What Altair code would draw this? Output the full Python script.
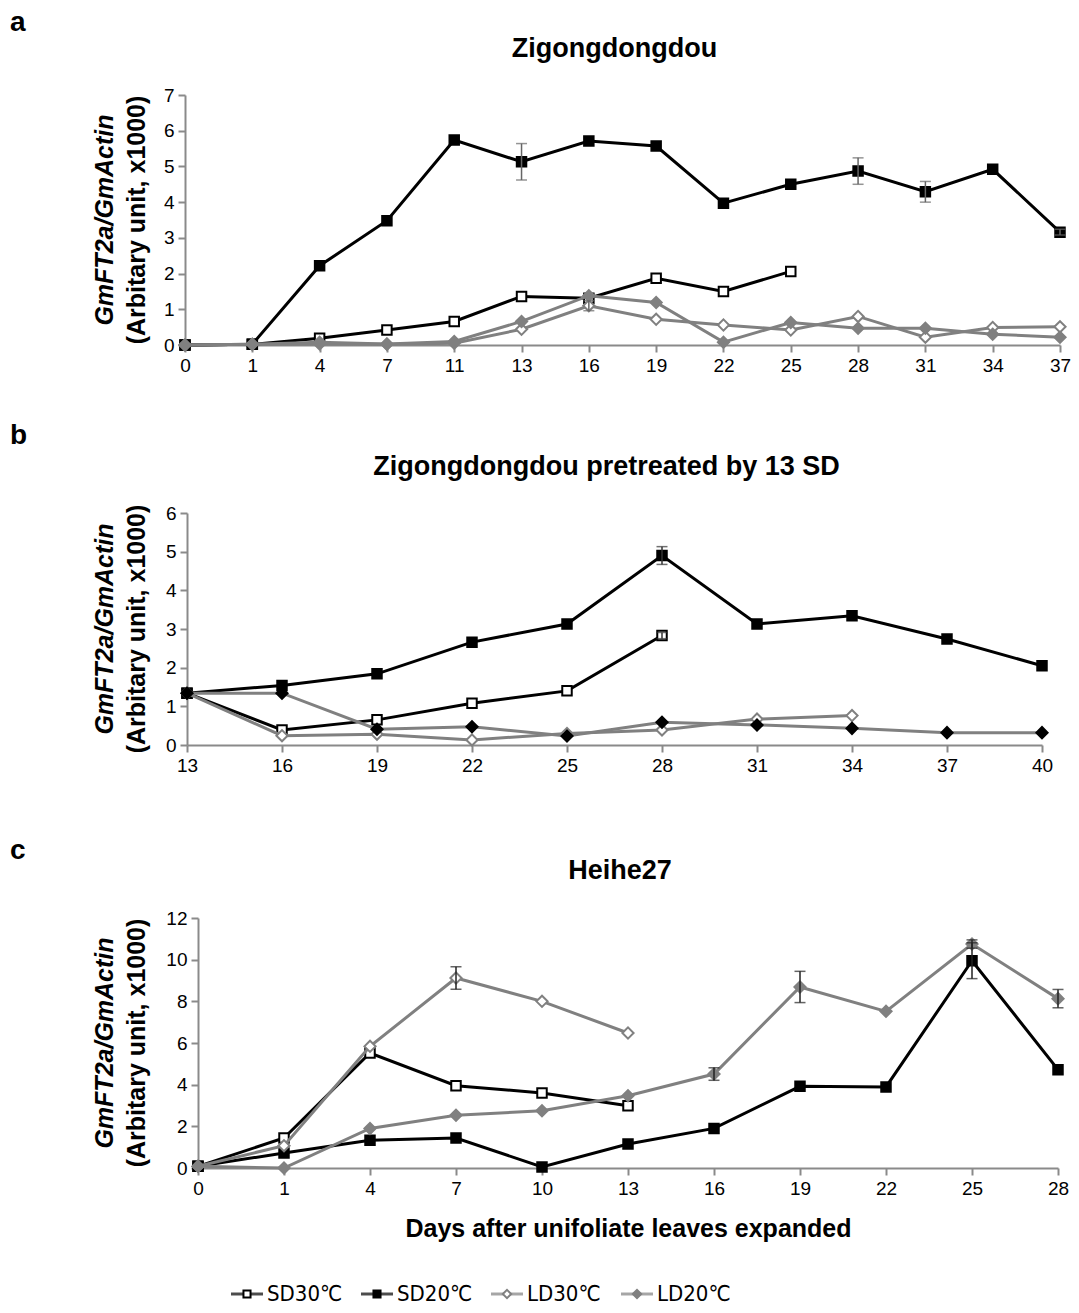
import altair as alt
import pandas as pd

FONT = "Liberation Sans"

# ---------------- data ----------------
A_DAYS = [0, 1, 4, 7, 11, 13, 16, 19, 22, 25, 28, 31, 34, 37]
A_SD30 = [0.0, 0.02, 0.19, 0.42, 0.66, 1.36, 1.31, 1.87, 1.50, 2.06]
A_SD20 = [0.0, 0.02, 2.22, 3.48, 5.74, 5.13, 5.71, 5.57, 3.97, 4.50, 4.87, 4.29, 4.92, 3.16]
A_LD30 = [0.0, 0.02, 0.03, 0.02, 0.05, 0.44, 1.10, 0.72, 0.56, 0.42, 0.80, 0.22, 0.49, 0.51]
A_LD20 = [0.0, 0.02, 0.08, 0.03, 0.10, 0.66, 1.38, 1.19, 0.08, 0.63, 0.47, 0.47, 0.30, 0.22]
A_ERR_SERIES = ["SD20", "SD20", "SD20", "LD30", "SD20"]
A_ERR_DAY = [13, 28, 31, 16, 37]
A_ERR_SD = [0.51, 0.37, 0.29, 0.14, 0.08]

B_DAYS = [13, 16, 19, 22, 25, 28, 31, 34, 37, 40]
B_SD30 = [1.34, 0.39, 0.65, 1.08, 1.40, 2.83]
B_SD20 = [1.34, 1.54, 1.84, 2.66, 3.13, 4.90, 3.13, 3.34, 2.74, 2.05]
B_LD30 = [1.34, 0.24, 0.28, 0.13, 0.30, 0.39, 0.67, 0.76]
B_LD20 = [1.34, 1.34, 0.41, 0.47, 0.23, 0.59, 0.52, 0.43, 0.32, 0.32]
B_ERR_SERIES = ["SD20", "SD30"]
B_ERR_DAY = [28, 28]
B_ERR_SD = [0.23, 0.08]

C_DAYS = [0, 1, 4, 7, 10, 13, 16, 19, 22, 25, 28]
C_SD30 = [0.08, 1.44, 5.52, 3.95, 3.60, 2.99]
C_SD20 = [0.08, 0.72, 1.33, 1.44, 0.05, 1.15, 1.90, 3.92, 3.89, 9.95, 4.72]
C_LD30 = [0.08, 1.07, 5.84, 9.12, 8.00, 6.48]
C_LD20 = [0.08, 0.00, 1.90, 2.53, 2.75, 3.47, 4.51, 8.69, 7.52, 10.75, 8.13]
C_ERR_SERIES = ["LD30", "SD20", "LD20", "LD20", "LD20", "LD20"]
C_ERR_DAY = [7, 25, 16, 19, 28, 25]
C_ERR_SD = [0.54, 0.86, 0.30, 0.75, 0.44, 0.20]

SERIES = ["SD30", "SD20", "LD30", "LD20"]
LEGEND_TEXT = ["SD30℃", "SD20℃", "LD30℃", "LD20℃"]

GRAY = "#808080"
AXIS_GRAY = "#8a8a8a"

STYLE = {
    "SD30": dict(line="#000000", shape="square", fill="#ffffff", stroke="#000000", size=90),
    "SD20": dict(line="#000000", shape="square", fill="#000000", stroke="#000000", size=90),
    "LD30": dict(line=GRAY, shape="diamond", fill="#ffffff", stroke=GRAY, size=125),
    "LD20": dict(line=GRAY, shape="diamond", fill=GRAY, stroke=GRAY, size=125),
}


def panel(days, values, err, ymax, W, r0, H, letter, title, top_ext, bot_ext,
          letter_y, title_y, ld20_fill=GRAY, err_color="#555555", xtitle=None):
    dom = [str(d) for d in days]
    xscale = alt.Scale(type="point", domain=dom, padding=0, range=[r0, W])
    yscale = alt.Scale(domain=[0, ymax], nice=False, zero=True)
    xaxis = alt.Axis(
        labelAngle=0, labelFontSize=19, labelFont=FONT, labelColor="#000000",
        domainColor=AXIS_GRAY, domainWidth=2, tickColor=AXIS_GRAY, tickWidth=2,
        tickSize=7, labelPadding=4, grid=False,
        title=xtitle, titleFont=FONT, titleFontSize=25, titleFontWeight="bold",
        titleColor="#000000", titlePadding=18,
    )
    step = 2 if ymax > 8 else 1
    yaxis = alt.Axis(
        values=list(range(0, ymax + 1, step)), labelFontSize=19, labelFont=FONT,
        labelColor="#000000", domainColor=AXIS_GRAY, domainWidth=2,
        tickColor=AXIS_GRAY, tickWidth=2, tickSize=7, labelPadding=4,
        grid=False, title=None, offset=-r0,
    )
    X = alt.X("day:N", scale=xscale, axis=xaxis, sort=dom)
    Y = alt.Y("v:Q", scale=yscale, axis=yaxis)

    layers = []
    # invisible rule that fixes the vertical extent of this panel
    bdf = pd.DataFrame({"k": [0]})
    layers.append(
        alt.Chart(bdf).mark_rule(strokeOpacity=0, strokeWidth=1).encode(
            x=alt.value(W - 2), y=alt.value(-top_ext), y2=alt.value(H + bot_ext)
        )
    )
    means = {}
    for s in SERIES:
        vals = values[s]
        df = pd.DataFrame({"day": dom[: len(vals)], "v": vals})
        for d, v in zip(df["day"], df["v"]):
            means[(s, d)] = v
        st = STYLE[s]
        fill = ld20_fill if s == "LD20" else st["fill"]
        stroke = ld20_fill if s == "LD20" else st["stroke"]
        layers.append(
            alt.Chart(df).mark_line(color=st["line"], strokeWidth=3).encode(x=X, y=Y)
        )
        layers.append(
            alt.Chart(df).mark_point(
                shape=st["shape"], filled=True, fill=fill, stroke=stroke,
                strokeWidth=2, size=st["size"], opacity=1,
            ).encode(x=X, y=Y)
        )
    es, ed, esd = err
    lo, hi, dd = [], [], []
    for s, d, sd in zip(es, ed, esd):
        m = means[(s, str(d))]
        lo.append(m - sd)
        hi.append(m + sd)
        dd.append(str(d))
    edf = pd.DataFrame({"day": dd, "lo": lo, "hi": hi})
    layers.append(
        alt.Chart(edf).mark_rule(color=err_color, strokeWidth=1.5).encode(
            x=X, y=alt.Y("lo:Q", scale=yscale, axis=yaxis), y2="hi:Q"
        )
    )
    for f in ["lo", "hi"]:
        layers.append(
            alt.Chart(edf).mark_tick(color=err_color, orient="horizontal", size=11,
                                     thickness=1.5).encode(
                x=X, y=alt.Y(f + ":Q", scale=yscale, axis=yaxis)
            )
        )
    # texts
    tdf = pd.DataFrame({"t": [letter]})
    layers.append(
        alt.Chart(tdf).mark_text(align="left", baseline="alphabetic", fontSize=28,
                                 fontWeight="bold", font=FONT, color="#000000").encode(
            x=alt.value(-175), y=alt.value(letter_y), text="t:N"
        )
    )
    ttdf = pd.DataFrame({"t": [title]})
    layers.append(
        alt.Chart(ttdf).mark_text(align="center", baseline="alphabetic", fontSize=27,
                                  fontWeight="bold", font=FONT, color="#000000").encode(
            x=alt.value((r0 + W) / 2 - 8), y=alt.value(title_y), text="t:N"
        )
    )
    y1 = pd.DataFrame({"t": ["GmFT2a/GmActin"]})
    layers.append(
        alt.Chart(y1).mark_text(align="center", baseline="middle", angle=270,
                                fontSize=25, fontWeight="bold", fontStyle="italic",
                                font=FONT, color="#000000").encode(
            x=alt.value(-80), y=alt.value(H / 2), text="t:N"
        )
    )
    y2 = pd.DataFrame({"t": ["(Arbitary unit, x1000)"]})
    layers.append(
        alt.Chart(y2).mark_text(align="center", baseline="middle", angle=270,
                                fontSize=25, fontWeight="bold",
                                font=FONT, color="#000000").encode(
            x=alt.value(-48), y=alt.value(H / 2), text="t:N"
        )
    )
    return alt.layer(*layers).properties(width=W, height=H)


pa = panel(A_DAYS, {"SD30": A_SD30, "SD20": A_SD20, "LD30": A_LD30, "LD20": A_LD20},
           (A_ERR_SERIES, A_ERR_DAY, A_ERR_SD), 7, 875, 0, 250, "a", "Zigongdongdou",
           87, 34, letter_y=-64, title_y=-38, err_color="#666666")
pb = panel(B_DAYS, {"SD30": B_SD30, "SD20": B_SD20, "LD30": B_LD30, "LD20": B_LD20},
           (B_ERR_SERIES, B_ERR_DAY, B_ERR_SD), 6, 857, 2, 232, "b",
           "Zigongdongdou pretreated by 13 SD", 134, 34, letter_y=-69, title_y=-38,
           ld20_fill="#000000", err_color="#333333")
pc = panel(C_DAYS, {"SD30": C_SD30, "SD20": C_SD20, "LD30": C_LD30, "LD20": C_LD20},
           (C_ERR_SERIES, C_ERR_DAY, C_ERR_SD), 12, 873, 13, 250, "c", "Heihe27",
           139, 115, letter_y=-59, title_y=-39, err_color="#222222",
           xtitle="Days after unifoliate leaves expanded")

# legend
ldf = pd.DataFrame({"s": SERIES, "t": LEGEND_TEXT})
LX = alt.X("s:N", scale=alt.Scale(type="point", domain=SERIES, padding=0, range=[62, 452]),
           axis=None, sort=SERIES)
leg_layers = []
for s in SERIES:
    st = STYLE[s]
    sdf = ldf[ldf["s"] == s]
    leg_layers.append(
        alt.Chart(sdf).mark_tick(color=st["line"], orient="horizontal", size=32,
                                 thickness=3).encode(x=LX, y=alt.value(11))
    )
    leg_layers.append(
        alt.Chart(sdf).mark_point(shape=st["shape"], filled=True, fill=st["fill"],
                                  stroke=st["stroke"], strokeWidth=2,
                                  size=50 if st["shape"] == "square" else 70,
                                  opacity=1).encode(x=LX, y=alt.value(11))
    )
leg_layers.append(
    alt.Chart(ldf).mark_text(align="left", baseline="middle", dx=20, fontSize=22,
                             font="DejaVu Sans Condensed, Liberation Sans",
                             color="#000000").encode(
        x=LX, y=alt.value(11), text="t:N"
    )
)
legend = alt.layer(*leg_layers).properties(width=860, height=20)

chart = alt.vconcat(pa, pb, pc, legend, spacing=0).resolve_scale(
    x="independent", y="independent"
).properties(
    padding={"left": 2, "top": 0, "right": 0, "bottom": 0},
    background="#ffffff",
).configure_view(stroke=None, strokeWidth=0)

chart.save("out.html", embed_options={"renderer": "svg", "actions": False})
